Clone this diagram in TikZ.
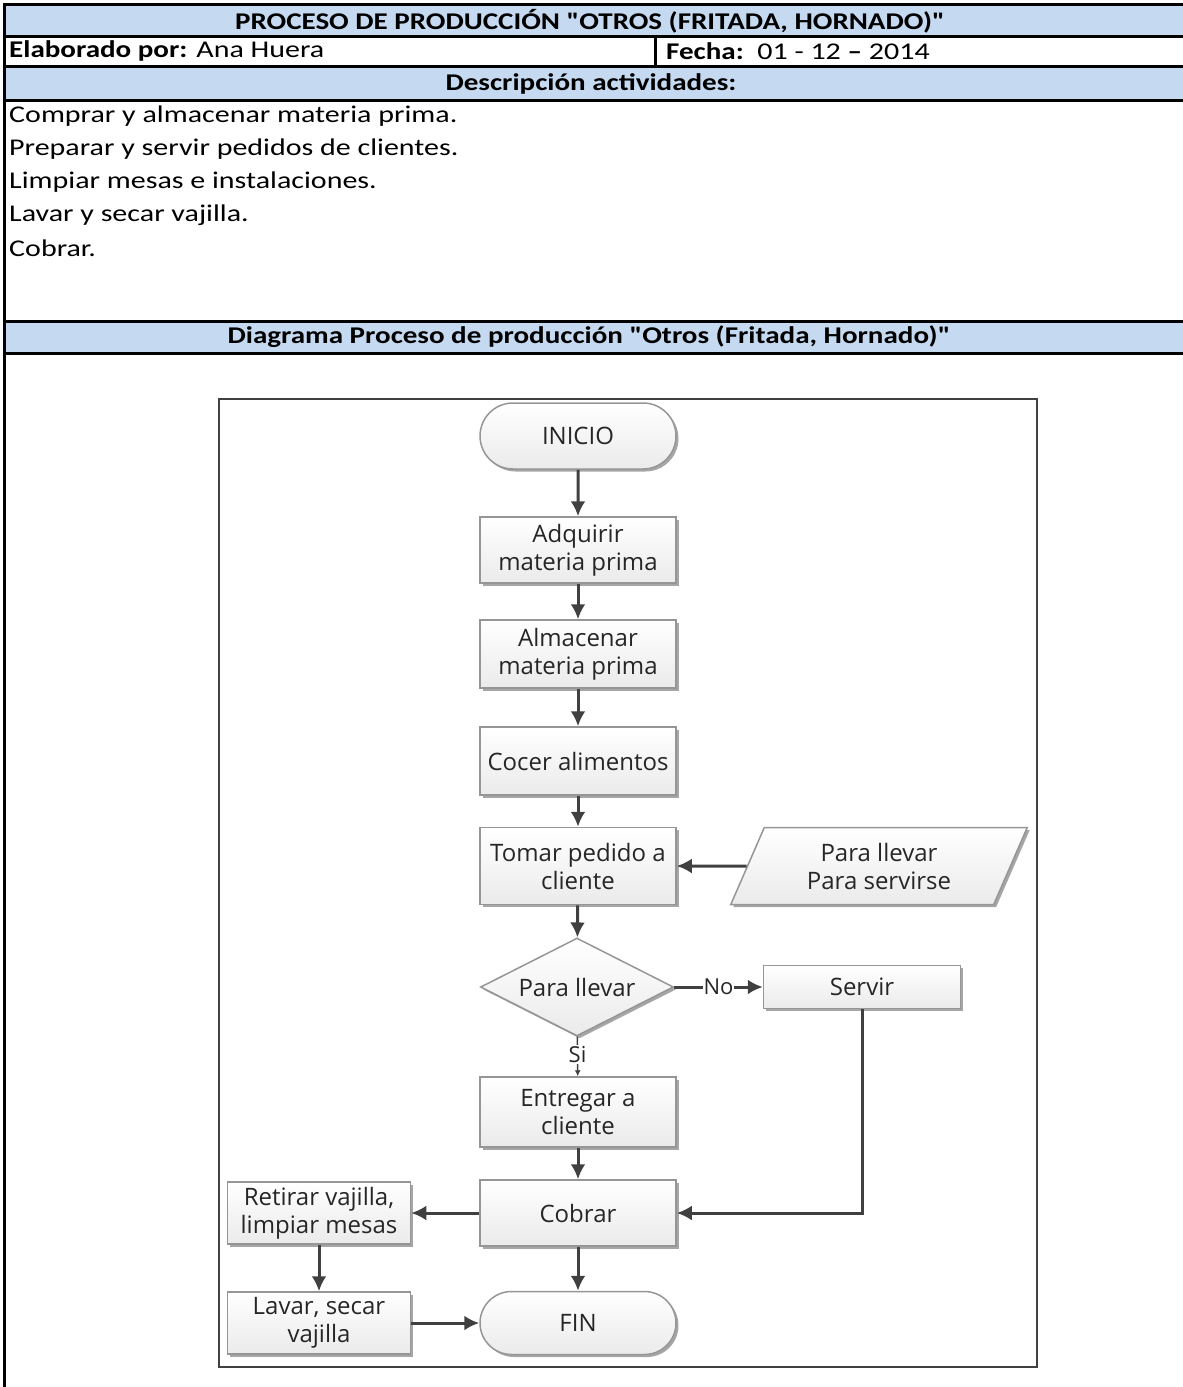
\documentclass[tikz,border=0pt]{standalone}
\usepackage{fontspec}
\setmainfont{Carlito}
\newfontfamily\tabla[FakeStretch=1.25]{Carlito}
\newfontfamily\tablanegrita[FakeStretch=1.21]{Carlito Bold}
\newfontfamily\flowfont{Open Sans}
\usetikzlibrary{shapes.geometric,shapes.misc,shadows,arrows.meta}
\definecolor{celda}{RGB}{197,217,241}
\definecolor{linea}{RGB}{64,64,64}
\definecolor{borde}{RGB}{150,150,150}
\newcommand\comilla{\symbol{34}}
\newcommand\negrita[1]{{\tablanegrita #1}}
\tikzset{
  texto/.style={inner sep=0pt, font=\tabla\fontsize{24}{28}\selectfont},
  bloque/.style={draw=borde, line width=1.5pt, top color=white, bottom color=gray!16,
    drop shadow={shadow xshift=2.5pt, shadow yshift=-2.5pt, opacity=0.35, fill=black},
    align=center, inner sep=0pt, text=black!85, font=\flowfont\fontsize{24}{28}\selectfont},
  caja/.style={bloque, rectangle, minimum width=196pt, minimum height=66pt},
  terminal/.style={bloque, rounded rectangle, minimum width=196pt, minimum height=66pt},
  flecha/.style={draw=linea, line width=3pt, -{Latex[length=15pt,width=15pt]}},
  etiqueta/.style={fill=white, inner sep=1pt, text=black!85, font=\flowfont\fontsize{22}{26}\selectfont}
}
\begin{document}
\begin{tikzpicture}[x=1pt,y=-1pt]
\useasboundingbox (0,0) rectangle (1183,1387);
% tabla
\fill[celda] (4,4) rectangle (1183,36);
\fill[celda] (4,66) rectangle (1183,100);
\fill[celda] (4,321) rectangle (1183,353);
\draw[line width=3pt] (4,1387)--(4,4)--(1183,4);
\foreach \y in {36,66,100,321,353} \draw[line width=3pt] (4,\y)--(1183,\y);
\draw[line width=3pt] (655,36)--(655,66);
\node[texto] (titulo) at (590,21) {\negrita{PROCESO DE PRODUCCIÓN \comilla OTROS (FRITADA, HORNADO)\comilla}};
\node[texto,anchor=west] (autor) at (9,51) {\negrita{Elaborado por:} Ana Huera};
\node[texto,anchor=west] (fecha) at (666,51) {\negrita{Fecha:}\ \ 01 - 12 \negrita{–} 2014};
\node[texto] (desc) at (591,84) {\negrita{Descripción actividades:}};
\node[texto,anchor=west] (act1) at (9,116) {Comprar y almacenar materia prima.};
\node[texto,anchor=west] (act2) at (9,149) {Preparar y servir pedidos de clientes.};
\node[texto,anchor=west] (act3) at (9,182) {Limpiar mesas e instalaciones.};
\node[texto,anchor=west] (act4) at (9,215) {Lavar y secar vajilla.};
\node[texto,anchor=west] (act5) at (9,248) {Cobrar.};
\node[texto] (diag) at (589,337) {\negrita{Diagrama Proceso de producción \comilla Otros (Fritada, Hornado)\comilla}};
% diagrama de flujo
\draw[line width=2pt, linea] (219,399) rectangle (1037,1367);
\node[terminal] (inicio) at (578,436) {INICIO};
\node[caja] (adquirir) at (578,550) {Adquirir\\materia prima};
\node[caja, minimum height=68pt] (almacenar) at (578,654) {Almacenar\\materia prima};
\node[caja, minimum height=68pt] (cocer) at (578,761) {Cocer alimentos};
\node[caja, minimum height=77pt] (tomar) at (578,866) {Tomar pedido a\\cliente};
\node[bloque, trapezium, trapezium stretches=true, trapezium left angle=65.6, trapezium right angle=114.4,
  minimum width=297pt, minimum height=77pt] (pedido) at (879,866) {Para llevar\\Para servirse};
\node[bloque, diamond, aspect=1.97, minimum width=193pt, minimum height=98pt] (decision) at (577,987) {Para llevar};
\node[caja, minimum width=197pt, minimum height=43pt] (servir) at (862,987) {Servir};
\node[caja, minimum height=70pt] (entregar) at (578,1112) {Entregar a\\cliente};
\node[caja] (cobrar) at (578,1213) {Cobrar};
\node[caja, minimum width=183pt, minimum height=62pt] (retirar) at (319,1213) {Retirar vajilla,\\limpiar mesas};
\node[caja, minimum width=183pt, minimum height=62pt] (lavar) at (319,1323) {Lavar, secar\\vajilla};
\node[terminal, minimum height=63pt] (fin) at (578,1323) {FIN};
\draw[flecha] (inicio) -- (adquirir);
\draw[flecha] (adquirir) -- (almacenar);
\draw[flecha] (almacenar) -- (cocer);
\draw[flecha] (cocer) -- (tomar);
\draw[flecha] (pedido.west) -- (tomar.east);
\draw[flecha] (tomar) -- (decision);
\draw[flecha] (decision) -- node[etiqueta] {No} (servir);
\draw[draw=linea, line width=1.5pt, -{Latex[length=6pt,width=6pt]}] (decision) -- node[etiqueta, pos=0.45] {Si} (entregar);
\draw[flecha] (entregar) -- (cobrar);
\draw[flecha] (servir.south) |- (cobrar.east);
\draw[flecha] (cobrar) -- (retirar);
\draw[flecha] (cobrar) -- (fin);
\draw[flecha] (retirar) -- (lavar);
\draw[flecha] (lavar) -- (fin);
\end{tikzpicture}
\end{document}
